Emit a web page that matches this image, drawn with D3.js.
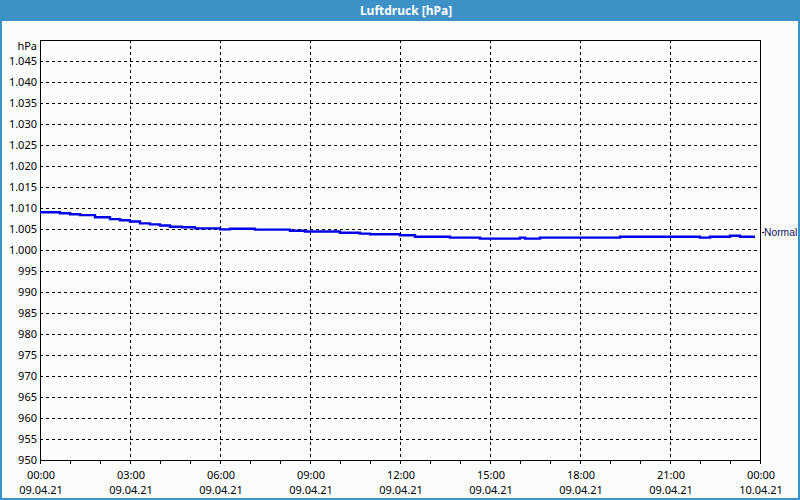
<!DOCTYPE html>
<html>
<head>
<meta charset="utf-8">
<script src="https://d3js.org/d3.v7.min.js"></script>
<style>
  html, body { margin: 0; padding: 0; background: #fbfdfc; }
  svg { display: block; }
  text { font-family: "Noto Sans", "Liberation Sans", sans-serif; }
</style>
</head>
<body>
<svg id="chart"></svg>
<script>
  // measurement times (09.04.21) and pressure in hPa
  const times = ['00:00', '00:40', '01:00', '01:20', '01:50', '02:20', '02:40', '03:00', '03:20',
                 '03:40', '04:00', '04:20', '04:44', '05:10', '06:00', '06:20', '07:10', '08:20',
                 '08:50', '10:00', '10:40', '11:00', '12:00', '12:30', '13:40', '14:40', '16:00',
                 '16:10', '16:40', '19:20', '22:00', '22:20', '23:00', '23:20', '23:50']
  const values = [1009.0, 1008.75, 1008.5, 1008.3, 1007.8, 1007.35, 1007.1, 1006.8, 1006.35,
                  1006.1, 1005.85, 1005.55, 1005.4, 1005.15, 1004.9, 1005.05, 1004.85, 1004.6,
                  1004.4, 1004.1, 1003.9, 1003.75, 1003.5, 1003.15, 1002.95, 1002.7, 1002.95,
                  1002.7, 1002.95, 1003.15, 1002.95, 1003.15, 1003.4, 1003.15, 1003.15]
  const yTicks = d3.range(950, 1050, 5)
  const xTickHours = [0, 3, 6, 9, 12, 15, 18, 21, 24]
  const normalValue = 1004.2
  const normalLabel = 'Normal'
  const title = 'Luftdruck [hPa]'
  const unit = 'hPa'

  const width = 800, height = 500
  const plotL = 40, plotR = 760, plotT = 40, plotB = 460

  const de = d3.formatLocale({decimal: ',', thousands: '.', grouping: [3], currency: ['', ' €']})
  const fmtY = de.format(',d')
  const fmtTime = d3.timeFormat('%H:%M')
  const fmtDate = d3.timeFormat('%d.%m.%y')

  const day = new Date(2021, 3, 9)
  const parse = t => {
    const p = t.split(':')
    return new Date(2021, 3, 9, +p[0], +p[1])
  }
  const data = times.map((t, i) => ({t: parse(t), v: values[i]}))

  const x = d3.scaleTime()
      .domain([day, d3.timeDay.offset(day, 1)])
      .range([plotL, plotR])
  const y = d3.scaleLinear()
      .domain([950, 1050])
      .range([plotB, plotT])

  const svg = d3.select('#chart')
      .attr('width', width)
      .attr('height', height)

  // window frame + title bar
  svg.append('rect')
      .attr('x', 0).attr('y', 0)
      .attr('width', width).attr('height', height)
      .style('fill', '#fbfdfc')
  svg.append('rect')
      .attr('x', 1).attr('y', 0)
      .attr('width', width - 2).attr('height', height - 1)
      .style('fill', 'none')
      .style('stroke', '#3d91c6')
      .style('stroke-width', 2)
  svg.append('rect')
      .attr('x', 0).attr('y', 0)
      .attr('width', width).attr('height', 21)
      .style('fill', '#3d91c6')
  svg.append('text')
      .attr('x', 406).attr('y', 15)
      .attr('text-anchor', 'middle')
      .style('fill', 'white')
      .style('font-weight', 'bold')
      .style('font-size', '12px')
      .text(title)

  // grid
  const grid = svg.append('g')
      .style('stroke', '#000')
      .style('stroke-width', 1)
      .style('stroke-dasharray', '3,3')
      .style('shape-rendering', 'crispEdges')
  grid.selectAll('line.h')
      .data(yTicks.filter(d => d > 950))
      .enter().append('line')
      .attr('class', 'h')
      .attr('x1', plotL).attr('x2', plotR)
      .attr('y1', d => Math.round(y(d)) + 0.5)
      .attr('y2', d => Math.round(y(d)) + 0.5)
  grid.selectAll('line.v')
      .data(xTickHours.slice(1, -1))
      .enter().append('line')
      .attr('class', 'v')
      .attr('x1', d => Math.round(x(d3.timeHour.offset(day, d))) + 0.5)
      .attr('x2', d => Math.round(x(d3.timeHour.offset(day, d))) + 0.5)
      .attr('y1', plotT).attr('y2', plotB)

  // hourly ticks below the x axis
  svg.append('g').selectAll('line')
      .data(d3.range(0, 25))
      .enter().append('line')
      .attr('x1', d => Math.round(x(d3.timeHour.offset(day, d))) + 0.5)
      .attr('x2', d => Math.round(x(d3.timeHour.offset(day, d))) + 0.5)
      .attr('y1', plotB).attr('y2', plotB + 4)
      .style('stroke', '#000')
      .style('shape-rendering', 'crispEdges')

  // plot frame
  svg.append('rect')
      .attr('x', plotL + 0.5).attr('y', plotT + 0.5)
      .attr('width', plotR - plotL).attr('height', plotB - plotT)
      .style('fill', 'none')
      .style('stroke', '#000')
      .style('stroke-width', 1)
      .style('shape-rendering', 'crispEdges')

  // y labels
  const yLabels = svg.append('g')
      .style('font-size', '11px')
      .style('fill', '#000')
  yLabels.selectAll('text')
      .data(yTicks)
      .enter().append('text')
      .attr('x', 37)
      .attr('y', d => y(d))
      .attr('dy', '0.36em')
      .attr('text-anchor', 'end')
      .text(d => fmtY(d))
  yLabels.append('text')
      .attr('x', 37).attr('y', 46)
      .attr('dy', '0.36em')
      .attr('text-anchor', 'end')
      .text(unit)

  // x labels, two lines
  const xLabels = svg.append('g')
      .style('font-size', '11px')
      .style('fill', '#000')
      .selectAll('g')
      .data(xTickHours.map(h => d3.timeHour.offset(day, h)))
      .enter().append('g')
  xLabels.append('text')
      .attr('x', d => x(d) + 1)
      .attr('y', 479)
      .attr('text-anchor', 'middle')
      .text(d => fmtTime(d))
  xLabels.append('text')
      .attr('x', d => x(d) + 1)
      .attr('y', 494)
      .attr('text-anchor', 'middle')
      .text(d => fmtDate(d))

  // series
  const line = d3.line()
      .x(d => x(d.t))
      .y(d => y(d.v))
      .curve(d3.curveStepAfter)
  svg.append('path')
      .datum(data)
      .attr('d', line)
      .style('fill', 'none')
      .style('stroke', '#0000e6')
      .style('stroke-width', 2.4)

  // normal marker on the right
  svg.append('line')
      .attr('x1', plotR + 2).attr('x2', plotR + 4)
      .attr('y1', Math.round(y(normalValue)) + 0.5)
      .attr('y2', Math.round(y(normalValue)) + 0.5)
      .style('stroke', '#000')
      .style('shape-rendering', 'crispEdges')
  svg.append('text')
      .attr('x', plotR + 4)
      .attr('y', y(normalValue))
      .attr('dy', '0.36em')
      .style('font-family', '"Liberation Sans", sans-serif')
      .style('font-size', '10.3px')
      .style('fill', '#101060')
      .text(normalLabel)
</script>
</body>
</html>
